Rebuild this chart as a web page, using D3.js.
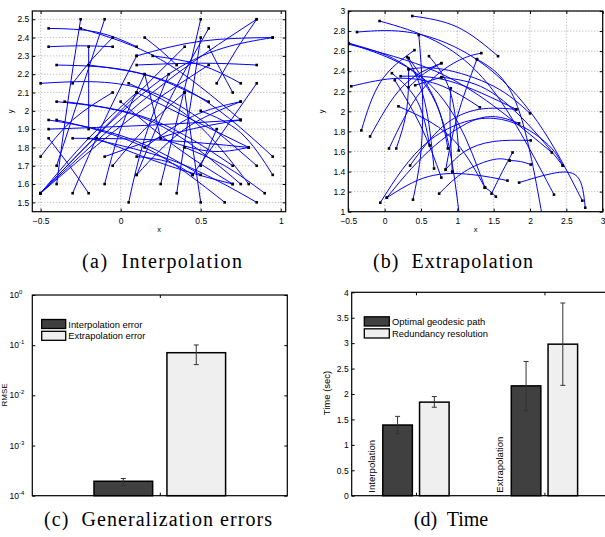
<!DOCTYPE html>
<html>
<head>
<meta charset="utf-8">
<title>Geodesic paths: interpolation and extrapolation</title>
<style>
body { margin: 0; background: #fff; }
text { font-family: "Liberation Sans", Arial, sans-serif; fill: #000; }
.tick text { font-size: 8.5px; }
.tick line { stroke: #000; }
.caption { font-family: "Liberation Serif", "Times New Roman", serif; font-size: 20px; }
.grid line { stroke: #8a8a8a; stroke-width: 0.7; stroke-dasharray: 1,2; }
.curve { fill: none; stroke: #0000ff; stroke-width: 1; }
.frame { fill: none; stroke: #000; stroke-width: 1.2; }
.bar { stroke: #000; stroke-width: 1.5; }
.err { stroke: #333; stroke-width: 1; }
</style>
</head>
<body>
<script src="https://cdn.jsdelivr.net/npm/d3@7/dist/d3.min.js"></script>
<script>
// ---- data -------------------------------------------------------------
// (a) interpolation paths: start, a point along the path, end  (x, y)
var interpPaths = [
  [[-0.45,2.45],[-0.15,2.43],[0.1,2.35]],
  [[-0.45,2.35],[-0.25,2.355],[-0.05,2.35]],
  [[-0.25,2.45],[0.25,2.28],[0.75,1.95]],
  [[-0.4,2.25],[0.1,2.21],[0.55,2.05]],
  [[-0.2,2.25],[0.4,2.12],[0.95,1.75]],
  [[-0.5,2.15],[0.2,2.1],[0.85,1.7]],
  [[-0.4,2.05],[0.2,1.94],[0.75,1.6]],
  [[-0.35,2.05],[0.2,1.95],[0.7,1.7]],
  [[-0.45,1.95],[0.05,1.85],[0.5,1.65]],
  [[-0.4,1.95],[0.15,1.8],[0.65,1.5]],
  [[-0.45,1.9],[0.15,1.92],[0.75,1.95]],
  [[-0.3,1.85],[0.25,1.84],[0.8,1.8]],
  [[-0.45,1.85],[-0.32,1.7],[-0.2,1.55]],
  [[-0.2,1.85],[0.35,1.72],[0.85,1.5]],
  [[0.15,2.4],[0.25,2.33],[0.35,2.25]],
  [[0.1,2.3],[0.5,2.38],[0.95,2.4]],
  [[0.2,2.3],[0.5,2.25],[0.75,2.15]],
  [[0.1,2.25],[0.5,2.26],[0.85,2.25]],
  [[0.55,2.35],[0.62,2.23],[0.7,2.1]],
  [[-0.5,1.55],[0.3,2.2],[0.95,2.4]],
  [[0.5,2.5],[0.38,2.05],[0.25,1.6]],
  [[0.5,2.4],[0.43,2.0],[0.35,1.55]],
  [[0.55,2.45],[0.3,2.05],[0.1,1.65]],
  [[-0.2,2.35],[-0.2,2.12],[-0.2,1.9]],
  [[-0.25,2.5],[-0.33,2.05],[-0.4,1.6]],
  [[-0.1,2.5],[-0.25,2.1],[-0.4,1.7]],
  [[-0.5,1.55],[0.0,2.0],[0.4,2.35]],
  [[-0.5,1.55],[-0.2,1.85],[0.1,2.1]],
  [[-0.5,1.55],[0.05,1.95],[0.55,2.25]],
  [[-0.3,1.55],[-0.1,1.95],[0.1,2.3]],
  [[-0.1,1.6],[0.0,1.9],[0.15,2.2]],
  [[0.05,1.5],[0.15,1.85],[0.3,2.2]],
  [[0.1,1.65],[0.4,1.9],[0.75,2.05]],
  [[-0.1,1.75],[0.35,1.88],[0.75,1.95]],
  [[-0.05,1.7],[0.15,1.9],[0.4,2.1]],
  [[0.15,1.8],[0.45,1.97],[0.75,2.05]],
  [[0.45,1.65],[0.65,1.9],[0.85,2.15]],
  [[0.5,2.0],[0.75,1.88],[0.95,1.65]],
  [[0.4,1.8],[0.65,1.7],[0.9,1.55]],
  [[0.4,2.1],[0.45,1.8],[0.5,1.5]],
  [[0.15,2.2],[0.2,2.03],[0.25,1.85]],
  [[-0.5,1.75],[-0.3,1.95],[-0.05,2.1]],
  [[0.1,1.75],[0.3,1.72],[0.45,1.65]],
  [[-0.3,2.15],[-0.18,2.28],[-0.05,2.4]],
  [[0.0,2.05],[0.35,1.8],[0.7,1.6]],
  [[0.05,2.15],[0.45,1.95],[0.8,1.6]],
  [[-0.15,1.85],[0.3,1.7],[0.7,1.6]],
  [[0.25,1.85],[0.55,1.78],[0.8,1.8]],
  [[0.6,2.15],[0.72,2.33],[0.85,2.5]],
  [[-0.5,1.55],[0.2,2.1],[0.85,2.5]],
  [[0.1,2.1],[0.45,1.95],[0.8,1.8]],
  [[0.6,1.9],[0.55,1.8],[0.5,1.7]]
];

// (b) extrapolation paths (points below y = 1 leave the axes)
var extrapPaths = [
  [[0.38,2.95],[1.0,2.84],[1.56,2.55]],
  [[-0.07,2.9],[0.7,2.7],[1.5,2.2],[2.33,1.17]],
  [[-0.38,2.79],[0.4,2.78],[1.3,2.5],[2.1,1.9],[2.72,1.11]],
  [[-0.5,2.68],[0.3,2.45],[0.8,1.9],[1.03,0.95]],
  [[-0.5,2.68],[0.4,2.4],[1.0,1.9],[1.38,1.24]],
  [[-0.5,2.67],[0.7,2.4],[1.6,2.0],[2.3,1.59]],
  [[0.47,2.76],[0.52,2.2],[0.5,1.6],[0.39,1.12]],
  [[-0.46,2.25],[0.2,2.33],[0.8,2.25],[1.31,2.04]],
  [[-0.32,1.81],[-0.05,2.3],[0.41,2.61]],
  [[-0.2,1.75],[0.25,2.25],[0.78,2.48]],
  [[0.06,1.63],[0.5,2.2],[1.0,2.5],[1.33,2.58]],
  [[0.16,1.63],[0.3,2.0],[0.33,2.42]],
  [[0.33,2.42],[0.8,2.42],[1.5,2.25],[2.0,1.98]],
  [[0.78,2.34],[1.4,2.22],[2.0,1.85],[2.45,1.46]],
  [[0.35,1.46],[0.8,1.85],[1.3,2.02],[1.81,2.02]],
  [[0.84,1.42],[1.1,1.6],[1.5,1.7],[2.01,1.71]],
  [[0.03,1.14],[0.6,1.6],[1.3,1.93],[1.85,1.88]],
  [[-0.06,1.09],[0.6,1.7],[1.5,1.93],[2.2,1.7],[2.45,1.46]],
  [[0.03,1.14],[0.6,1.35],[1.2,1.37],[1.69,1.31]],
  [[1.85,1.29],[2.3,1.38],[2.65,1.35],[2.76,1.04]],
  [[0.75,1.18],[1.1,1.4],[1.5,1.52],[1.72,1.51]],
  [[1.47,1.18],[1.62,1.4],[1.76,1.59]],
  [[1.38,1.24],[1.46,1.2],[1.53,1.15]],
  [[1.72,1.51],[1.87,1.5],[2.01,1.47]],
  [[0.93,1.4],[0.9,1.9],[0.91,2.23]],
  [[0.31,2.54],[0.55,2.1],[0.68,1.43]],
  [[0.33,2.53],[0.7,2.1],[0.87,1.63]],
  [[0.61,2.55],[0.9,2.2],[1.02,1.61]],
  [[0.1,2.38],[0.45,2.1],[0.62,1.66]],
  [[0.19,2.05],[0.9,1.75],[1.38,1.24]],
  [[0.14,2.31],[0.5,1.85],[0.78,1.34]],
  [[1.27,2.52],[1.8,2.1],[2.17,0.95]],
  [[0.22,2.35],[0.9,2.3],[1.81,2.02]],
  [[0.33,2.24],[0.55,2.38],[0.78,2.48]],
  [[0.42,2.26],[0.6,2.3],[0.78,2.34]],
  [[0.84,1.42],[1.0,1.95],[1.27,2.52]]
];

// (c) generalization errors
var errorNames = ["Interpolation error", "Extrapolation error"];
var errorMean = [1.94e-4, 0.0708];
var errorLow = [1.58e-4, 0.041];
var errorHigh = [2.2e-4, 0.101];

// (d) computation time
var timeGroups = ["Interpolation", "Extrapolation"];
var timeNames = ["Optimal geodesic path", "Redundancy resolution"];
var timeMean = [[1.39, 1.84], [2.16, 2.98]];
var timeLow = [[1.22, 1.74], [1.67, 2.17]];
var timeHigh = [[1.56, 1.95], [2.64, 3.79]];

// ticks
var aXTicks = [-0.5, 0, 0.5, 1];
var aYTicks = [1.5, 1.6, 1.7, 1.8, 1.9, 2, 2.1, 2.2, 2.3, 2.4, 2.5];
var bXTicks = [-0.5, 0, 0.5, 1, 1.5, 2, 2.5, 3];
var bYTicks = [1, 1.2, 1.4, 1.6, 1.8, 2, 2.2, 2.4, 2.6, 2.8, 3];
var cYTicks = [1e-4, 1e-3, 1e-2, 1e-1, 1];
var cYExp = ["-4", "-3", "-2", "-1", "0"];
var dYTicks = [0, 0.5, 1, 1.5, 2, 2.5, 3, 3.5, 4];

var captions = ["(a)  Interpolation", "(b)  Extrapolation", "(c)  Generalization errors", "(d)  Time"];

var barFill = ["#404040", "#efefef"];
var barOffset = [-0.143, 0.143], barWidth = 0.23;

// ---- drawing -------------------------------------------------------------
var svg = d3.select("body").append("svg").attr("width", 605).attr("height", 537);
var fmt = d3.format("~g");

function frame(g, x, y, xt, yt, xfmt, yfmt) {
  var xr = x.range(), yr = y.range();
  g.append("g").attr("transform", "translate(0," + yr[0] + ")")
    .call(d3.axisBottom(x).tickValues(xt).tickSizeInner(-3).tickSizeOuter(0).tickPadding(6).tickFormat(xfmt))
    .call(function(a) { a.select(".domain").remove(); });
  g.append("g").attr("transform", "translate(0," + yr[1] + ")")
    .call(d3.axisTop(x).tickValues(xt).tickSizeInner(-3).tickSizeOuter(0).tickFormat(""))
    .call(function(a) { a.select(".domain").remove(); });
  g.append("g").attr("transform", "translate(" + xr[0] + ",0)")
    .call(d3.axisLeft(y).tickValues(yt).tickSizeInner(-3).tickSizeOuter(0).tickPadding(3).tickFormat(yfmt))
    .call(function(a) { a.select(".domain").remove(); });
  g.append("g").attr("transform", "translate(" + xr[1] + ",0)")
    .call(d3.axisRight(y).tickValues(yt).tickSizeInner(-3).tickSizeOuter(0).tickFormat(""))
    .call(function(a) { a.select(".domain").remove(); });
  g.append("rect").attr("class", "frame")
    .attr("x", xr[0]).attr("y", yr[1]).attr("width", xr[1] - xr[0]).attr("height", yr[0] - yr[1]);
}

function pathPanel(id, x, y, paths, xt, yt, xlab, ylab, ylabGap) {
  var g = svg.append("g");
  var xr = x.range(), yr = y.range();
  var grid = g.append("g").attr("class", "grid");
  grid.selectAll("line.v").data(xt).join("line").attr("class", "v")
    .attr("x1", x).attr("x2", x).attr("y1", yr[0]).attr("y2", yr[1]);
  grid.selectAll("line.h").data(yt).join("line").attr("class", "h")
    .attr("y1", y).attr("y2", y).attr("x1", xr[0]).attr("x2", xr[1]);

  svg.append("clipPath").attr("id", id).append("rect")
    .attr("x", xr[0]).attr("y", yr[1]).attr("width", xr[1] - xr[0]).attr("height", yr[0] - yr[1]);

  var line = d3.line().x(function(d) { return x(d[0]); }).y(function(d) { return y(d[1]); })
    .curve(d3.curveNatural);
  var inner = g.append("g").attr("clip-path", "url(#" + id + ")");
  inner.selectAll("path").data(paths).join("path").attr("class", "curve").attr("d", line);

  var ends = [];
  paths.forEach(function(p) { ends.push(p[0], p[p.length - 1]); });
  ends = ends.filter(function(d) { return d[1] >= y.domain()[0]; });
  inner.selectAll("rect.dot").data(ends).join("rect").attr("class", "dot")
    .attr("x", function(d) { return x(d[0]) - 1.3; }).attr("y", function(d) { return y(d[1]) - 1.3; })
    .attr("width", 2.6).attr("height", 2.6).attr("fill", "#000");

  frame(g, x, y, xt, yt, fmt, fmt);

  g.append("text").attr("x", (xr[0] + xr[1]) / 2).attr("y", yr[0] + 20)
    .attr("text-anchor", "middle").attr("font-size", 7.5).text(xlab);
  g.append("text").attr("transform", "translate(" + (xr[0] - ylabGap) + "," + ((yr[0] + yr[1]) / 2) + ") rotate(-90)")
    .attr("text-anchor", "middle").attr("font-size", 7.5).text(ylab);
}

// (a)
var xa = d3.scaleLinear().domain([-0.552, 1.031]).range([32.3, 285.7]);
var ya = d3.scaleLinear().domain([1.449, 2.545]).range([211.7, 11]);
pathPanel("clipA", xa, ya, interpPaths, aXTicks, aYTicks, "x", "y", 19);

// (b)
var xb = d3.scaleLinear().domain([-0.5, 3]).range([348.3, 602.7]);
var yb = d3.scaleLinear().domain([1, 3]).range([211.7, 11]);
pathPanel("clipB", xb, yb, extrapPaths, bXTicks, bYTicks, "x", "y", 24);

// (c) log-scale error bars
var gc = svg.append("g");
var xc = d3.scaleLinear().domain([0.5, 1.5]).range([32.3, 287.3]);
var yc = d3.scaleLog().domain([1e-4, 1]).range([495.7, 295]);
gc.selectAll("rect.bar").data(errorMean).join("rect").attr("class", "bar")
  .attr("x", function(d, i) { return xc(1 + barOffset[i] - barWidth / 2); })
  .attr("width", xc(1 + barWidth) - xc(1))
  .attr("y", function(d) { return yc(d); })
  .attr("height", function(d) { return yc(1e-4) - yc(d); })
  .attr("fill", function(d, i) { return barFill[i]; });
errorMean.forEach(function(d, i) {
  var cx = xc(1 + barOffset[i]);
  gc.append("line").attr("class", "err").attr("x1", cx).attr("x2", cx).attr("y1", yc(errorLow[i])).attr("y2", yc(errorHigh[i]));
  [errorLow[i], errorHigh[i]].forEach(function(v) {
    gc.append("line").attr("class", "err").attr("x1", cx - 2.5).attr("x2", cx + 2.5).attr("y1", yc(v)).attr("y2", yc(v));
  });
});
frame(gc, xc, yc, [1], cYTicks, "", "");
var cLab = gc.selectAll("text.ylab").data(cYTicks).join("text").attr("class", "ylab")
  .attr("x", 9.5).attr("y", function(d) { return yc(d) + 3; }).attr("font-size", 8.5);
cLab.append("tspan").text("10");
cLab.append("tspan").attr("dy", -4).attr("font-size", 6).text(function(d, i) { return cYExp[i]; });
gc.append("text").attr("transform", "translate(7," + 395 + ") rotate(-90)")
  .attr("text-anchor", "middle").attr("font-size", 8).text("RMSE");
errorNames.forEach(function(n, i) {
  gc.append("rect").attr("x", 41.7).attr("y", 319.5 + i * 11.8).attr("width", 24).attr("height", 9)
    .attr("fill", barFill[i]).attr("stroke", "#000").attr("stroke-width", 1.3);
  gc.append("text").attr("x", 68.3).attr("y", 327.5 + i * 11.8).attr("font-size", 9.4).text(n);
});

// (d) time bars
var gd = svg.append("g");
var xd = d3.scaleLinear().domain([0.5, 2.5]).range([351.7, 608.7]);
var yd = d3.scaleLinear().domain([0, 4]).range([495.7, 292.3]);
timeMean.forEach(function(grp, gi) {
  grp.forEach(function(v, si) {
    var cx = xd(gi + 1 + barOffset[si]);
    gd.append("rect").attr("class", "bar")
      .attr("x", xd(gi + 1 + barOffset[si] - barWidth / 2)).attr("width", xd(1 + barWidth) - xd(1))
      .attr("y", yd(v)).attr("height", yd(0) - yd(v)).attr("fill", barFill[si]);
    gd.append("line").attr("class", "err").attr("x1", cx).attr("x2", cx)
      .attr("y1", yd(timeLow[gi][si])).attr("y2", yd(timeHigh[gi][si]));
    [timeLow[gi][si], timeHigh[gi][si]].forEach(function(e) {
      gd.append("line").attr("class", "err").attr("x1", cx - 2.5).attr("x2", cx + 2.5).attr("y1", yd(e)).attr("y2", yd(e));
    });
  });
  gd.append("text").attr("transform", "translate(" + (xd(gi + 1) - 41) + "," + yd(0.06) + ") rotate(-90)")
    .attr("font-size", 9.6).text(timeGroups[gi]);
});
frame(gd, xd, yd, [1, 2], dYTicks, "", fmt);
gd.append("text").attr("transform", "translate(330,393) rotate(-90)")
  .attr("text-anchor", "middle").attr("font-size", 9.5).text("Time (sec)");
timeNames.forEach(function(n, i) {
  gd.append("rect").attr("x", 364.3).attr("y", 316.8 + i * 12).attr("width", 25).attr("height", 9.2)
    .attr("fill", barFill[i]).attr("stroke", "#000").attr("stroke-width", 1.3);
  gd.append("text").attr("x", 392).attr("y", 325 + i * 12).attr("font-size", 9.4).text(n);
});

// captions
var capPos = [[162, 268], [453, 268], [158, 526], [451, 526]];
var capWidth = [160, 160, 228, null];
svg.selectAll("text.caption").data(captions).join("text").attr("class", "caption")
  .attr("x", function(d, i) { return capPos[i][0]; }).attr("y", function(d, i) { return capPos[i][1]; })
  .attr("text-anchor", "middle").attr("xml:space", "preserve").style("white-space", "pre")
  .attr("textLength", function(d, i) { return capWidth[i]; }).attr("lengthAdjust", "spacing")
  .text(function(d) { return d; });
</script>
</body>
</html>
